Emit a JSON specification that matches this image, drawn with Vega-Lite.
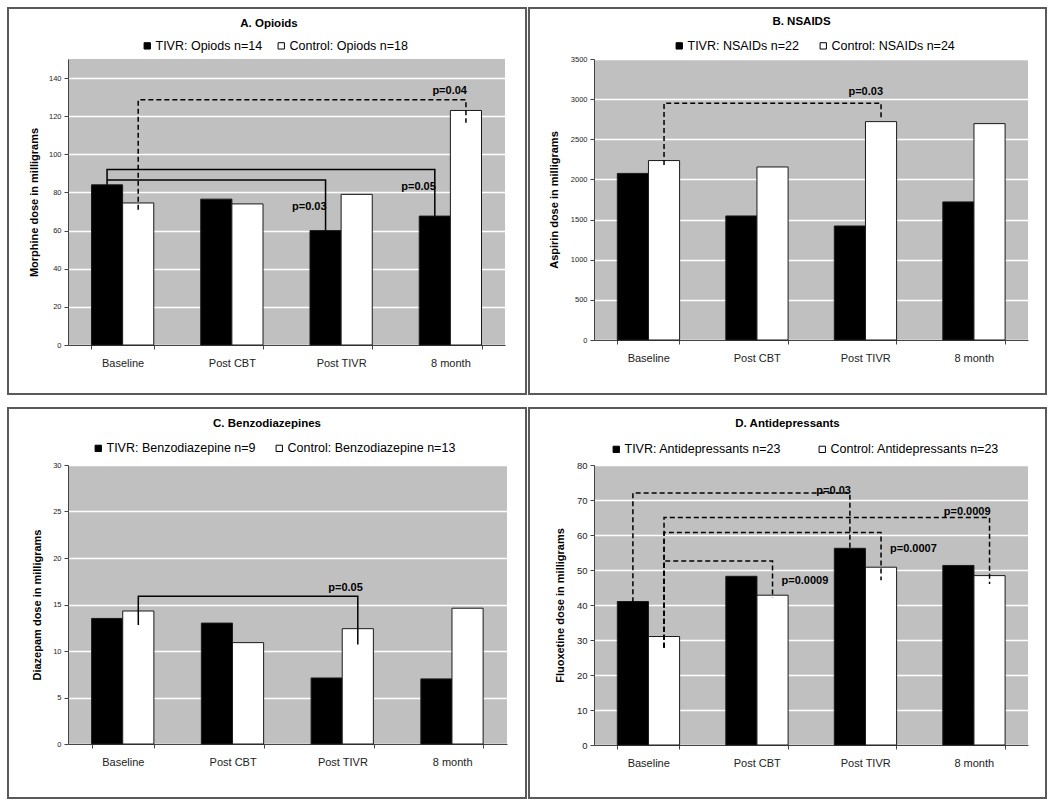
{
  "$schema": "https://vega.github.io/schema/vega-lite/v6.json",
  "autosize": {"type": "pad"},
  "padding": {"left": 6, "top": 6, "right": 4, "bottom": 0},
  "background": "#ffffff",
  "columns": 2,
  "spacing": {"row": 120, "column": 87},
  "bounds": "flush",
  "resolve": {"scale": {"fill": "independent"}, "legend": {"fill": "independent"}},
  "datasets": {
    "bars": [
      {"panel": "A", "time": "Baseline", "grp": "TIVR", "series": "TIVR: Opiods n=14", "dose": 84},
      {"panel": "A", "time": "Baseline", "grp": "Control", "series": "Control: Opiods n=18", "dose": 74.5},
      {"panel": "A", "time": "Post CBT", "grp": "TIVR", "series": "TIVR: Opiods n=14", "dose": 76.5},
      {"panel": "A", "time": "Post CBT", "grp": "Control", "series": "Control: Opiods n=18", "dose": 74},
      {"panel": "A", "time": "Post TIVR", "grp": "TIVR", "series": "TIVR: Opiods n=14", "dose": 60},
      {"panel": "A", "time": "Post TIVR", "grp": "Control", "series": "Control: Opiods n=18", "dose": 79},
      {"panel": "A", "time": "8 month", "grp": "TIVR", "series": "TIVR: Opiods n=14", "dose": 67.6},
      {"panel": "A", "time": "8 month", "grp": "Control", "series": "Control: Opiods n=18", "dose": 123},
      {"panel": "B", "time": "Baseline", "grp": "TIVR", "series": "TIVR: NSAIDs n=22", "dose": 2075},
      {"panel": "B", "time": "Baseline", "grp": "Control", "series": "Control: NSAIDs n=24", "dose": 2235},
      {"panel": "B", "time": "Post CBT", "grp": "TIVR", "series": "TIVR: NSAIDs n=22", "dose": 1545},
      {"panel": "B", "time": "Post CBT", "grp": "Control", "series": "Control: NSAIDs n=24", "dose": 2155},
      {"panel": "B", "time": "Post TIVR", "grp": "TIVR", "series": "TIVR: NSAIDs n=22", "dose": 1420},
      {"panel": "B", "time": "Post TIVR", "grp": "Control", "series": "Control: NSAIDs n=24", "dose": 2720},
      {"panel": "B", "time": "8 month", "grp": "TIVR", "series": "TIVR: NSAIDs n=22", "dose": 1720},
      {"panel": "B", "time": "8 month", "grp": "Control", "series": "Control: NSAIDs n=24", "dose": 2695},
      {"panel": "C", "time": "Baseline", "grp": "TIVR", "series": "TIVR: Benzodiazepine n=9", "dose": 13.5},
      {"panel": "C", "time": "Baseline", "grp": "Control", "series": "Control:  Benzodiazepine n=13", "dose": 14.3},
      {"panel": "C", "time": "Post CBT", "grp": "TIVR", "series": "TIVR: Benzodiazepine n=9", "dose": 13},
      {"panel": "C", "time": "Post CBT", "grp": "Control", "series": "Control:  Benzodiazepine n=13", "dose": 10.9},
      {"panel": "C", "time": "Post TIVR", "grp": "TIVR", "series": "TIVR: Benzodiazepine n=9", "dose": 7.1},
      {"panel": "C", "time": "Post TIVR", "grp": "Control", "series": "Control:  Benzodiazepine n=13", "dose": 12.4},
      {"panel": "C", "time": "8 month", "grp": "TIVR", "series": "TIVR: Benzodiazepine n=9", "dose": 7.0},
      {"panel": "C", "time": "8 month", "grp": "Control", "series": "Control:  Benzodiazepine n=13", "dose": 14.6},
      {"panel": "D", "time": "Baseline", "grp": "TIVR", "series": "TIVR: Antidepressants n=23", "dose": 41},
      {"panel": "D", "time": "Baseline", "grp": "Control", "series": "Control: Antidepressants n=23", "dose": 31},
      {"panel": "D", "time": "Post CBT", "grp": "TIVR", "series": "TIVR: Antidepressants n=23", "dose": 48.2},
      {"panel": "D", "time": "Post CBT", "grp": "Control", "series": "Control: Antidepressants n=23", "dose": 42.8},
      {"panel": "D", "time": "Post TIVR", "grp": "TIVR", "series": "TIVR: Antidepressants n=23", "dose": 56.2},
      {"panel": "D", "time": "Post TIVR", "grp": "Control", "series": "Control: Antidepressants n=23", "dose": 50.8},
      {"panel": "D", "time": "8 month", "grp": "TIVR", "series": "TIVR: Antidepressants n=23", "dose": 51.3},
      {"panel": "D", "time": "8 month", "grp": "Control", "series": "Control: Antidepressants n=23", "dose": 48.4}
    ],
    "brackets": [
      {"br": "A1", "step": 1, "time": "Baseline", "grp": "TIVR", "val": 84},
      {"br": "A1", "step": 2, "time": "Baseline", "grp": "TIVR", "val": 92},
      {"br": "A1", "step": 3, "time": "8 month", "grp": "TIVR", "val": 92},
      {"br": "A1", "step": 4, "time": "8 month", "grp": "TIVR", "val": 67.6},
      {"br": "A2", "step": 1, "time": "Baseline", "grp": "TIVR", "val": 86.5},
      {"br": "A2", "step": 2, "time": "Post TIVR", "grp": "TIVR", "val": 86.5},
      {"br": "A2", "step": 3, "time": "Post TIVR", "grp": "TIVR", "val": 60},
      {"br": "A3", "step": 1, "time": "Baseline", "grp": "Control", "val": 71},
      {"br": "A3", "step": 2, "time": "Baseline", "grp": "Control", "val": 128.6},
      {"br": "A3", "step": 3, "time": "8 month", "grp": "Control", "val": 128.6},
      {"br": "A3", "step": 4, "time": "8 month", "grp": "Control", "val": 116.6},
      {"br": "B1", "step": 1, "time": "Baseline", "grp": "Control", "val": 2180},
      {"br": "B1", "step": 2, "time": "Baseline", "grp": "Control", "val": 2950},
      {"br": "B1", "step": 3, "time": "Post TIVR", "grp": "Control", "val": 2950},
      {"br": "B1", "step": 4, "time": "Post TIVR", "grp": "Control", "val": 2748},
      {"br": "C1", "step": 1, "time": "Baseline", "grp": "Control", "val": 12.8},
      {"br": "C1", "step": 2, "time": "Baseline", "grp": "Control", "val": 15.9},
      {"br": "C1", "step": 3, "time": "Post TIVR", "grp": "Control", "val": 15.9},
      {"br": "C1", "step": 4, "time": "Post TIVR", "grp": "Control", "val": 10.7},
      {"br": "D1", "step": 1, "time": "Baseline", "grp": "TIVR", "val": 38.5},
      {"br": "D1", "step": 2, "time": "Baseline", "grp": "TIVR", "val": 72},
      {"br": "D1", "step": 3, "time": "Post TIVR", "grp": "TIVR", "val": 72},
      {"br": "D1", "step": 4, "time": "Post TIVR", "grp": "TIVR", "val": 56},
      {"br": "D2", "step": 1, "time": "Baseline", "grp": "Control", "val": 27.8},
      {"br": "D2", "step": 2, "time": "Baseline", "grp": "Control", "val": 65},
      {"br": "D2", "step": 3, "time": "8 month", "grp": "Control", "val": 65},
      {"br": "D2", "step": 4, "time": "8 month", "grp": "Control", "val": 46},
      {"br": "D3", "step": 1, "time": "Baseline", "grp": "Control", "val": 27.8},
      {"br": "D3", "step": 2, "time": "Baseline", "grp": "Control", "val": 60.7},
      {"br": "D3", "step": 3, "time": "Post TIVR", "grp": "Control", "val": 60.7},
      {"br": "D3", "step": 4, "time": "Post TIVR", "grp": "Control", "val": 47.1},
      {"br": "D4", "step": 1, "time": "Baseline", "grp": "Control", "val": 27.8},
      {"br": "D4", "step": 2, "time": "Baseline", "grp": "Control", "val": 52.6},
      {"br": "D4", "step": 3, "time": "Post CBT", "grp": "Control", "val": 52.6},
      {"br": "D4", "step": 4, "time": "Post CBT", "grp": "Control", "val": 42.1}
    ],
    "plabels": [
      {"br": "A1", "time": "8 month", "grp": "TIVR", "val": 83.1, "text": "p=0.05"},
      {"br": "A2", "time": "Post TIVR", "grp": "TIVR", "val": 72.6, "text": "p=0.03"},
      {"br": "A3", "time": "8 month", "grp": "Control", "val": 133, "text": "p=0.04"},
      {"br": "B1", "time": "Post TIVR", "grp": "Control", "val": 3091, "text": "p=0.03"},
      {"br": "C1", "time": "Post TIVR", "grp": "Control", "val": 16.8, "text": "p=0.05"},
      {"br": "D1", "time": "Post TIVR", "grp": "TIVR", "val": 72.5, "text": "p=0.03"},
      {"br": "D2", "time": "8 month", "grp": "Control", "val": 66.6, "text": "p=0.0009"},
      {"br": "D3", "time": "Post TIVR", "grp": "Control", "val": 56.1, "text": "p=0.0007"},
      {"br": "D4", "time": "Post CBT", "grp": "Control", "val": 46.9, "text": "p=0.0009"}
    ]
  },
  "concat": [
    {
      "width": 437, "height": 286,
      "title": {"text": "A. Opioids", "offset": -23, "dx": 2},
      "resolve": {"scale": {"x": "independent"}},
      "layer": [
        {
          "data": {"values": [{}]},
          "mark": {"type": "rect", "filled": false, "stroke": "#5a5a5a", "strokeWidth": 2},
          "encoding": {
            "x": {"datum": -0.1373, "type": "quantitative", "scale": {"domain": [0, 1]}, "axis": null},
            "x2": {"datum": 1.0481},
            "y": {"datum": 176.75, "type": "quantitative", "scale": {"domain": [0, 150], "nice": false}, "axis": {"title": "Morphine dose in milligrams", "values": [0, 20, 40, 60, 80, 100, 120, 140], "tickCount": 20, "format": "d", "titlePadding": 8.5}},
            "y2": {"datum": -25.7}
          }
        },
        {
          "layer": [
            {
              "data": {"name": "bars"},
              "transform": [{"filter": "datum.panel === 'A'"}],
              "mark": {"type": "bar", "stroke": "#1a1a1a", "strokeWidth": 1},
              "encoding": {
                "x": {"field": "time", "type": "nominal", "title": null, "scale": {"domain": ["Baseline", "Post CBT", "Post TIVR", "8 month"], "paddingInner": 0.43, "paddingOuter": 0.215}},
                "xOffset": {"field": "grp", "type": "nominal", "scale": {"domain": ["TIVR", "Control"], "paddingInner": 0, "paddingOuter": 0}},
                "y": {"field": "dose", "type": "quantitative", "scale": {"domain": [0, 150], "nice": false}, "axis": {"title": "Morphine dose in milligrams", "values": [0, 20, 40, 60, 80, 100, 120, 140], "tickCount": 20, "format": "d", "titlePadding": 8.5}},
                "fill": {"field": "series", "type": "nominal", "scale": {"domain": ["TIVR: Opiods n=14", "Control: Opiods n=18"], "range": ["#000000", "#ffffff"]}, "legend": {"legendX": 73, "legendY": -19.5, "columnPadding": 12}}
              }
            },
            {
              "data": {"name": "brackets"},
              "transform": [{"filter": {"field": "br", "oneOf": ["A3"]}}],
              "mark": {"type": "line", "color": "#000000", "strokeWidth": 1.5, "strokeDash": [5, 3]},
              "encoding": {
                "x": {"field": "time", "type": "nominal"},
                "xOffset": {"field": "grp", "type": "nominal"},
                "y": {"field": "val", "type": "quantitative"},
                "detail": {"field": "br"},
                "order": {"field": "step", "type": "quantitative"}
              }
            },
            {
              "data": {"name": "brackets"},
              "transform": [{"filter": {"field": "br", "oneOf": ["A1", "A2"]}}],
              "mark": {"type": "line", "color": "#000000", "strokeWidth": 1.5},
              "encoding": {
                "x": {"field": "time", "type": "nominal"},
                "xOffset": {"field": "grp", "type": "nominal"},
                "y": {"field": "val", "type": "quantitative"},
                "detail": {"field": "br"},
                "order": {"field": "step", "type": "quantitative"}
              }
            },
            {
              "data": {"name": "plabels"},
              "transform": [{"filter": {"field": "br", "oneOf": ["A1", "A2", "A3"]}}],
              "mark": {"type": "text", "fontSize": 11, "fontWeight": "bold", "align": "right", "baseline": "middle", "dx": 1, "color": "#000000"},
              "encoding": {
                "x": {"field": "time", "type": "nominal"},
                "xOffset": {"field": "grp", "type": "nominal"},
                "y": {"field": "val", "type": "quantitative"},
                "text": {"field": "text"}
              }
            }
          ]
        }
      ]
    },
    {
      "width": 434, "height": 281,
      "title": {"text": "B.  NSAIDS", "offset": -20, "dx": 14},
      "resolve": {"scale": {"x": "independent"}},
      "layer": [
        {
          "data": {"values": [{}]},
          "mark": {"type": "rect", "filled": false, "stroke": "#5a5a5a", "strokeWidth": 2},
          "encoding": {
            "x": {"datum": -0.1498, "type": "quantitative", "scale": {"domain": [0, 1]}, "axis": null},
            "x2": {"datum": 1.0415},
            "y": {"datum": 4135.2, "type": "quantitative", "scale": {"domain": [0, 3500], "nice": false}, "axis": {"title": "Aspirin dose in milligrams", "values": [0, 500, 1000, 1500, 2000, 2500, 3000, 3500], "tickCount": 20, "format": "d", "titlePadding": 10.5}},
            "y2": {"datum": -672.6}
          }
        },
        {
          "layer": [
            {
              "data": {"name": "bars"},
              "transform": [{"filter": "datum.panel === 'B'"}],
              "mark": {"type": "bar", "stroke": "#1a1a1a", "strokeWidth": 1},
              "encoding": {
                "x": {"field": "time", "type": "nominal", "title": null, "scale": {"domain": ["Baseline", "Post CBT", "Post TIVR", "8 month"], "paddingInner": 0.43, "paddingOuter": 0.215}},
                "xOffset": {"field": "grp", "type": "nominal", "scale": {"domain": ["TIVR", "Control"], "paddingInner": 0, "paddingOuter": 0}},
                "y": {"field": "dose", "type": "quantitative", "scale": {"domain": [0, 3500], "nice": false}, "axis": {"title": "Aspirin dose in milligrams", "values": [0, 500, 1000, 1500, 2000, 2500, 3000, 3500], "tickCount": 20, "format": "d", "titlePadding": 10.5}},
                "fill": {"field": "series", "type": "nominal", "scale": {"domain": ["TIVR: NSAIDs n=22", "Control: NSAIDs n=24"], "range": ["#000000", "#ffffff"]}, "legend": {"legendX": 79, "legendY": -19.5, "columnPadding": 18}}
              }
            },
            {
              "data": {"name": "brackets"},
              "transform": [{"filter": {"field": "br", "oneOf": ["B1"]}}],
              "mark": {"type": "line", "color": "#000000", "strokeWidth": 1.5, "strokeDash": [5, 3]},
              "encoding": {
                "x": {"field": "time", "type": "nominal"},
                "xOffset": {"field": "grp", "type": "nominal"},
                "y": {"field": "val", "type": "quantitative"},
                "detail": {"field": "br"},
                "order": {"field": "step", "type": "quantitative"}
              }
            },
            {
              "data": {"name": "plabels"},
              "transform": [{"filter": {"field": "br", "oneOf": ["B1"]}}],
              "mark": {"type": "text", "fontSize": 11, "fontWeight": "bold", "align": "right", "baseline": "middle", "dx": 2, "color": "#000000"},
              "encoding": {
                "x": {"field": "time", "type": "nominal"},
                "xOffset": {"field": "grp", "type": "nominal"},
                "y": {"field": "val", "type": "quantitative"},
                "text": {"field": "text"}
              }
            }
          ]
        }
      ]
    },
    {
      "width": 439, "height": 279,
      "title": {"text": "C.  Benzodiazepines", "offset": -23, "dx": 0},
      "resolve": {"scale": {"x": "independent"}},
      "layer": [
        {
          "data": {"values": [{}]},
          "mark": {"type": "rect", "filled": false, "stroke": "#5a5a5a", "strokeWidth": 2},
          "encoding": {
            "x": {"datum": -0.1367, "type": "quantitative", "scale": {"domain": [0, 1]}, "axis": null},
            "x2": {"datum": 1.0433},
            "y": {"datum": 36.13, "type": "quantitative", "scale": {"domain": [0, 30], "nice": false}, "axis": {"title": "Diazepam dose in milligrams", "values": [0, 5, 10, 15, 20, 25, 30], "tickCount": 20, "format": "d", "titlePadding": 10}},
            "y2": {"datum": -5.806}
          }
        },
        {
          "layer": [
            {
              "data": {"name": "bars"},
              "transform": [{"filter": "datum.panel === 'C'"}],
              "mark": {"type": "bar", "stroke": "#1a1a1a", "strokeWidth": 1},
              "encoding": {
                "x": {"field": "time", "type": "nominal", "title": null, "scale": {"domain": ["Baseline", "Post CBT", "Post TIVR", "8 month"], "paddingInner": 0.43, "paddingOuter": 0.215}},
                "xOffset": {"field": "grp", "type": "nominal", "scale": {"domain": ["TIVR", "Control"], "paddingInner": 0, "paddingOuter": 0}},
                "y": {"field": "dose", "type": "quantitative", "scale": {"domain": [0, 30], "nice": false}, "axis": {"title": "Diazepam dose in milligrams", "values": [0, 5, 10, 15, 20, 25, 30], "tickCount": 20, "format": "d", "titlePadding": 10}},
                "fill": {"field": "series", "type": "nominal", "scale": {"domain": ["TIVR: Benzodiazepine n=9", "Control:  Benzodiazepine n=13"], "range": ["#000000", "#ffffff"]}, "legend": {"legendX": 24, "legendY": -23, "columnPadding": 17}}
              }
            },
            {
              "data": {"name": "brackets"},
              "transform": [{"filter": {"field": "br", "oneOf": ["C1"]}}],
              "mark": {"type": "line", "color": "#000000", "strokeWidth": 1.5},
              "encoding": {
                "x": {"field": "time", "type": "nominal"},
                "xOffset": {"field": "grp", "type": "nominal"},
                "y": {"field": "val", "type": "quantitative"},
                "detail": {"field": "br"},
                "order": {"field": "step", "type": "quantitative"}
              }
            },
            {
              "data": {"name": "plabels"},
              "transform": [{"filter": {"field": "br", "oneOf": ["C1"]}}],
              "mark": {"type": "text", "fontSize": 11, "fontWeight": "bold", "align": "right", "baseline": "middle", "dx": 5, "color": "#000000"},
              "encoding": {
                "x": {"field": "time", "type": "nominal"},
                "xOffset": {"field": "grp", "type": "nominal"},
                "y": {"field": "val", "type": "quantitative"},
                "text": {"field": "text"}
              }
            }
          ]
        }
      ]
    },
    {
      "width": 434, "height": 280,
      "title": {"text": "D.  Antidepressants", "offset": -23, "dx": 0},
      "resolve": {"scale": {"x": "independent"}},
      "layer": [
        {
          "data": {"values": [{}]},
          "mark": {"type": "rect", "filled": false, "stroke": "#5a5a5a", "strokeWidth": 2},
          "encoding": {
            "x": {"datum": -0.1498, "type": "quantitative", "scale": {"domain": [0, 1]}, "axis": null},
            "x2": {"datum": 1.0415},
            "y": {"datum": 96.29, "type": "quantitative", "scale": {"domain": [0, 80], "nice": false}, "axis": {"title": "Fluoxetine dose in milligrams", "values": [0, 10, 20, 30, 40, 50, 60, 70, 80], "tickCount": 20, "format": "d", "labelFontSize": 9.5, "titlePadding": 11}},
            "y2": {"datum": -15.14}
          }
        },
        {
          "layer": [
            {
              "data": {"name": "bars"},
              "transform": [{"filter": "datum.panel === 'D'"}],
              "mark": {"type": "bar", "stroke": "#1a1a1a", "strokeWidth": 1},
              "encoding": {
                "x": {"field": "time", "type": "nominal", "title": null, "scale": {"domain": ["Baseline", "Post CBT", "Post TIVR", "8 month"], "paddingInner": 0.43, "paddingOuter": 0.215}},
                "xOffset": {"field": "grp", "type": "nominal", "scale": {"domain": ["TIVR", "Control"], "paddingInner": 0, "paddingOuter": 0}},
                "y": {"field": "dose", "type": "quantitative", "scale": {"domain": [0, 80], "nice": false}, "axis": {"title": "Fluoxetine dose in milligrams", "values": [0, 10, 20, 30, 40, 50, 60, 70, 80], "tickCount": 20, "format": "d", "labelFontSize": 9.5, "titlePadding": 11}},
                "fill": {"field": "series", "type": "nominal", "scale": {"domain": ["TIVR: Antidepressants n=23", "Control: Antidepressants n=23"], "range": ["#000000", "#ffffff"]}, "legend": {"legendX": 16, "legendY": -22, "columnPadding": 34}}
              }
            },
            {
              "data": {"name": "brackets"},
              "transform": [{"filter": {"field": "br", "oneOf": ["D1", "D2", "D3", "D4"]}}],
              "mark": {"type": "line", "color": "#000000", "strokeWidth": 1.5, "strokeDash": [5, 3]},
              "encoding": {
                "x": {"field": "time", "type": "nominal"},
                "xOffset": {"field": "grp", "type": "nominal"},
                "y": {"field": "val", "type": "quantitative"},
                "detail": {"field": "br"},
                "order": {"field": "step", "type": "quantitative"}
              }
            },
            {
              "data": {"name": "plabels"},
              "transform": [{"filter": {"field": "br", "oneOf": ["D1", "D2"]}}],
              "mark": {"type": "text", "fontSize": 11, "fontWeight": "bold", "align": "right", "baseline": "middle", "dx": 1, "color": "#000000"},
              "encoding": {
                "x": {"field": "time", "type": "nominal"},
                "xOffset": {"field": "grp", "type": "nominal"},
                "y": {"field": "val", "type": "quantitative"},
                "text": {"field": "text"}
              }
            },
            {
              "data": {"name": "plabels"},
              "transform": [{"filter": {"field": "br", "oneOf": ["D3", "D4"]}}],
              "mark": {"type": "text", "fontSize": 11, "fontWeight": "bold", "align": "left", "baseline": "middle", "dx": 9, "color": "#000000"},
              "encoding": {
                "x": {"field": "time", "type": "nominal"},
                "xOffset": {"field": "grp", "type": "nominal"},
                "y": {"field": "val", "type": "quantitative"},
                "text": {"field": "text"}
              }
            }
          ]
        }
      ]
    }
  ],
  "config": {
    "font": "Liberation Sans",
    "view": {"fill": "#c0c0c0", "stroke": null},
    "axis": {"domainColor": "#444444", "tickColor": "#444444", "labelColor": "#222222", "titleColor": "#000000", "titleFontWeight": "bold", "titleFontSize": 11, "labelFont": "Liberation Sans", "titleFont": "Liberation Sans"},
    "axisX": {"grid": false, "tickBand": "extent", "labelAngle": 0, "labelFontSize": 11, "tickSize": 4, "labelPadding": 8},
    "axisY": {"grid": true, "gridColor": "#ffffff", "gridWidth": 1.5, "tickSize": 4, "labelFontSize": 7.5, "labelPadding": 3, "labelOverlap": false},
    "legend": {"orient": "none", "direction": "horizontal", "title": null, "labelFont": "Liberation Sans", "labelFontSize": 12.5, "labelColor": "#000000", "labelLimit": 400, "symbolType": "square", "symbolSize": 40, "symbolStrokeColor": "#000000", "symbolStrokeWidth": 1, "labelOffset": 2, "padding": 0},
    "title": {"font": "Liberation Sans", "fontSize": 11.5, "fontWeight": "bold", "color": "#000000", "anchor": "middle", "frame": "bounds", "baseline": "alphabetic"}
  }
}
